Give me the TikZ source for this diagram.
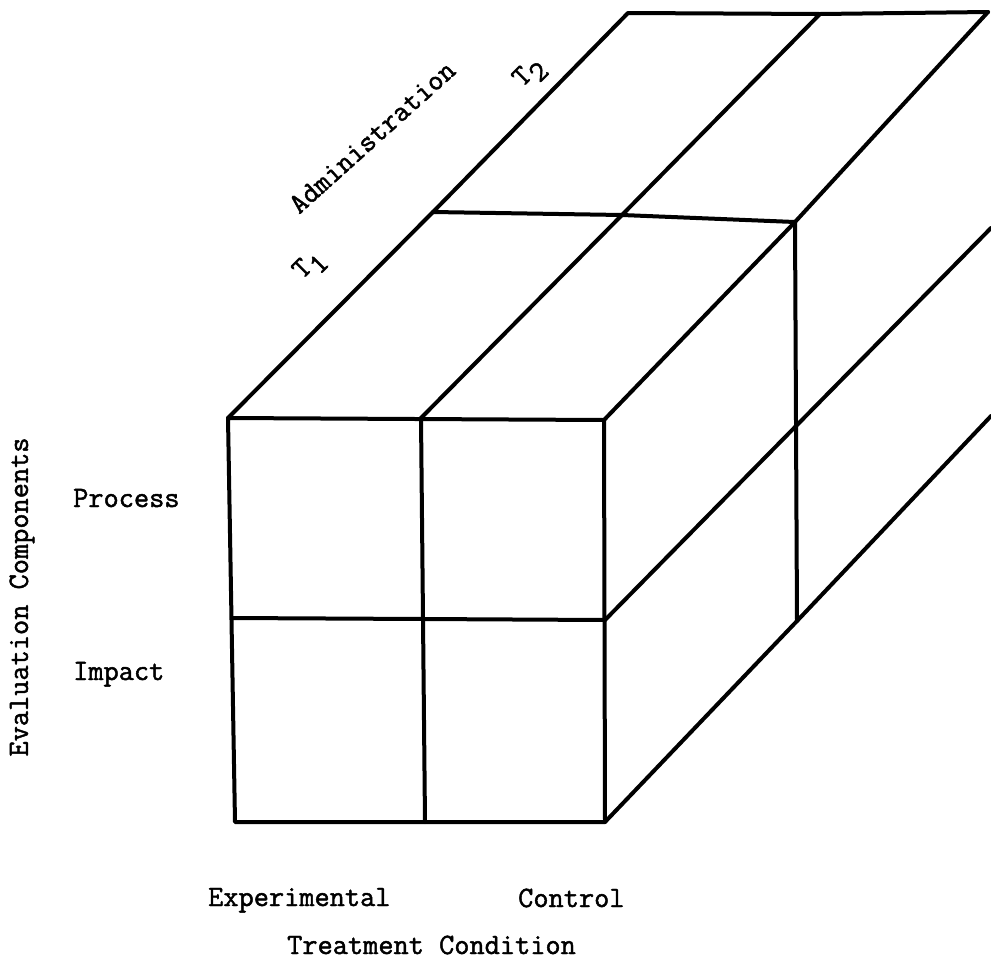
\documentclass[tikz,border=0pt]{standalone}
\usepackage{fontspec}
\newfontfamily\twfont{Latin Modern Mono}[FakeBold=1.6]
\begin{document}
\begin{tikzpicture}[x=1pt,y=-1pt,
  edge/.style={line width=4pt,line cap=round,line join=round},
  lbl/.style={font=\fontsize{29.5}{32}\selectfont\twfont,inner sep=0pt}]
\useasboundingbox (0,0) rectangle (991,967);
% front face
\coordinate (A) at (228,418); \coordinate (B) at (421,418); \coordinate (C) at (604,420);
\coordinate (D) at (232,618); \coordinate (E) at (423,619); \coordinate (F) at (605,620);
\coordinate (G) at (235,822); \coordinate (H) at (425,822); \coordinate (I) at (605,822);
% top face
\coordinate (TA) at (433,212); \coordinate (TB) at (622,215); \coordinate (TC) at (795,222);
\coordinate (BA) at (628,13); \coordinate (BB) at (820,14); \coordinate (BC) at (988,12);
% right face
\coordinate (RM) at (797,621);
\coordinate (RMid) at (991,228);
\coordinate (RBot) at (991,416);
\draw[edge] (A) -- (C) -- (I) -- (G) -- cycle;
\draw[edge] (B) -- (E) -- (H);
\draw[edge] (D) -- (E) -- (F);
\draw[edge] (A) -- (TA) -- (BA) -- (BB) -- (BC);
\draw[edge] (B) -- (TB) -- (BB);
\draw[edge] (C) -- (TC) -- (BC);
\draw[edge] (TA) -- (TB) -- (TC);
\draw[edge] (TC) -- (RM);
\draw[edge] (F) -- (RMid);
\draw[edge] (I) -- (RM) -- (RBot);
% labels
\node[lbl,rotate=42] (adm) at (372,137) {Administration};
\node[lbl,rotate=45] (t2) at (530,74) {T\raisebox{-9pt}{2}};
\node[lbl,rotate=45] (t1) at (310,266) {T\raisebox{-9pt}{1}};
\node[lbl,anchor=base west] (proc) at (73,507) {Process};
\node[lbl,anchor=base west] (imp) at (73,680) {Impact};
\node[lbl,rotate=90] (eval) at (22,597) {Evaluation Components};
\node[lbl,anchor=base west] (exp) at (208,906) {Experimental};
\node[lbl,anchor=base west] (ctl) at (518,907) {Control};
\node[lbl,anchor=base west] (trt) at (287,954) {Treatment Condition};
\end{tikzpicture}
\end{document}
